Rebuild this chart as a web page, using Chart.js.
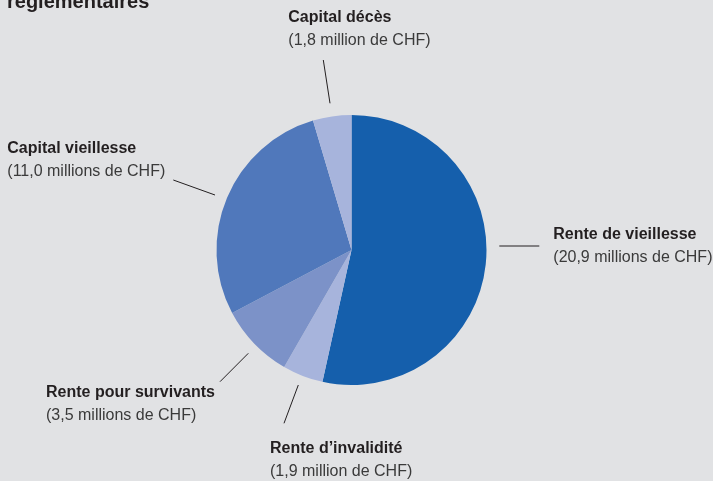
<!DOCTYPE html>
<html>
<head>
<meta charset="utf-8">
<script src="https://cdn.jsdelivr.net/npm/chart.js@4/dist/chart.umd.min.js"></script>
<style>
  html, body { margin: 0; padding: 0; background: #e1e2e4; }
  #wrap { position: relative; width: 713px; height: 481px; overflow: hidden; }
</style>
</head>
<body>
<div id="wrap"><canvas id="c" width="713" height="481"></canvas></div>
<script>
// ---- data ----
const titleText = "réglementaires";
const categories = ["Rente de vieillesse", "Rente d’invalidité", "Rente pour survivants", "Capital vieillesse", "Capital décès"];
const values = [20.9, 1.9, 3.5, 11.0, 1.8]; // millions de CHF
const colors = ["#155fac", "#a7b4dc", "#7c92c8", "#5078bb", "#a7b4dc"];

function amountText(v) {
  const s = v.toFixed(1).replace('.', ',');
  return "(" + s + (v < 2 ? " million" : " millions") + " de CHF)";
}

// label layout (offsets relative to pie centre): leader line [x1,y1,x2,y2], text x, first baseline
const labelLayout = [
  { line: [147.8, -4, 187.8, -4], tx: 201.8, ty: -11 },
  { line: [-53.2, 135, -67.5, 173.3], tx: -81.5, ty: 203 },
  { line: [-103.2, 103.3, -131.5, 131.7], tx: -305.5, ty: 147 },
  { line: [-136.5, -55, -178.2, -70], tx: -344.2, ty: -97.5 },
  { line: [-21.5, -146.7, -28.2, -190], tx: -63.2, ty: -228.3 }
];

const labelPlugin = {
  id: 'pieLabels',
  afterDraw(chart) {
    const ctx = chart.ctx;
    const arc = chart.getDatasetMeta(0).data[0];
    const cx = arc.x, cy = arc.y;
    ctx.save();
    // title (cut off at top)
    ctx.fillStyle = '#231f20';
    ctx.font = 'bold 20px "Liberation Sans", Arial, sans-serif';
    ctx.textBaseline = 'alphabetic';
    ctx.textAlign = 'left';
    ctx.fillText(titleText, 7, 8);

    categories.forEach((name, i) => {
      const L = labelLayout[i];
      ctx.strokeStyle = '#231f20';
      ctx.lineWidth = 1;
      ctx.beginPath();
      ctx.moveTo(cx + L.line[0], cy + L.line[1]);
      ctx.lineTo(cx + L.line[2], cy + L.line[3]);
      ctx.stroke();
      ctx.fillStyle = '#231f20';
      ctx.font = 'bold 16px "Liberation Sans", Arial, sans-serif';
      ctx.fillText(name, cx + L.tx, cy + L.ty);
      ctx.fillStyle = '#3a3a3a';
      ctx.font = '16px "Liberation Sans", Arial, sans-serif';
      ctx.fillText(amountText(values[i]), cx + L.tx, cy + L.ty + 23);
    });
    ctx.restore();
  }
};

new Chart(document.getElementById('c'), {
  type: 'pie',
  data: {
    labels: categories,
    datasets: [{
      data: values,
      backgroundColor: colors,
      borderWidth: 0
    }]
  },
  options: {
    responsive: false,
    animation: false,
    layout: { padding: { left: 216.5, right: 226.5, top: 115, bottom: 96 } },
    plugins: {
      legend: { display: false },
      tooltip: { enabled: false },
      title: { display: false }
    }
  },
  plugins: [labelPlugin]
});
</script>
</body>
</html>
